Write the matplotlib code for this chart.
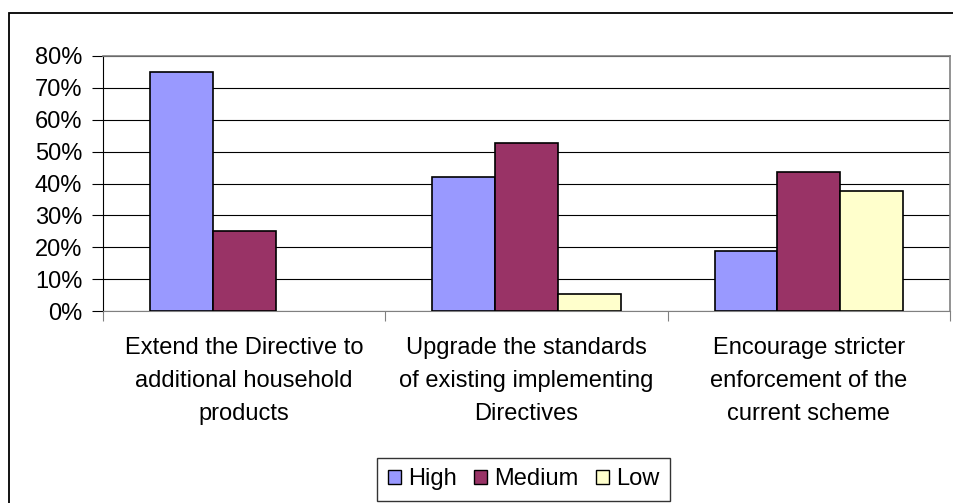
import matplotlib
matplotlib.use("Agg")
import matplotlib.pyplot as plt
from matplotlib.patches import Rectangle, Patch
from matplotlib.ticker import FuncFormatter, MultipleLocator
import numpy as np

plt.rcParams['font.family'] = ['Liberation Sans', 'DejaVu Sans']

categories = [
    "Extend the Directive to\nadditional household\nproducts",
    "Upgrade the standards\nof existing implementing\nDirectives",
    "Encourage stricter\nenforcement of the\ncurrent scheme",
]
series_names = ["High", "Medium", "Low"]
high = [0.75, 0.421, 0.1875]
medium = [0.25, 0.526, 0.4375]
low = [0.0, 0.053, 0.375]
colors = ["#9999FF", "#993366", "#FFFFCC"]

W, H = 954, 503
FS = 17
fig = plt.figure(figsize=(W / 100, H / 100), dpi=100)

# outer chart frame (top and left edges visible)
fig.add_artist(Rectangle((9 / W, -0.01), 1.05, 1 - 13 / H + 0.01,
                         transform=fig.transFigure, fill=False,
                         edgecolor="black", linewidth=1.3))

left, right, top, bottom = 103, 950, 56, 311
ax = fig.add_axes([left / W, 1 - bottom / H, (right - left) / W, (bottom - top) / H])

n = len(categories)
bw = 1 / 4.5
x = np.arange(n) + 0.5
for i, (vals, c) in enumerate(zip([high, medium, low], colors)):
    edges = ["black" if v > 0 else "none" for v in vals]
    ax.bar(x + (i - 1) * bw, vals, width=bw, color=c, edgecolor=edges,
           linewidth=1.2, zorder=3, label=series_names[i])

ax.set_xlim(0, n)
ax.set_ylim(0, 0.8)
ax.yaxis.set_major_locator(MultipleLocator(0.1))
ax.yaxis.set_major_formatter(FuncFormatter(lambda v, p: f"{v * 100:.0f}%"))
ax.grid(axis="y", color="black", linewidth=0.8, zorder=0)

ax.set_xticks(np.arange(n + 1))
ax.set_xticklabels([])
ax.set_xticks(x, minor=True)
ax.set_xticklabels(categories, minor=True, fontsize=FS, linespacing=1.64)
ax.tick_params(axis="x", which="minor", length=0, pad=19)
ax.tick_params(axis="x", which="major", direction="out", length=7, color="#808080")
ax.tick_params(axis="y", direction="out", length=8, labelsize=FS, pad=7)

for s in ["top", "right"]:
    ax.spines[s].set_color("#808080")
    ax.spines[s].set_linewidth(1.2)
ax.spines["bottom"].set_color("#808080")
ax.spines["left"].set_color("black")

handles = [Patch(facecolor=c, edgecolor="black", linewidth=1.0) for c in colors]
leg = fig.legend(handles, series_names, loc="lower left",
                 bbox_to_anchor=(377 / W, 1 - 501 / H), ncol=3, fontsize=FS,
                 frameon=True, fancybox=False, handlelength=0.55, handleheight=0.55,
                 handletextpad=0.3, columnspacing=0.75, borderpad=0.45,
                 borderaxespad=0)
leg.get_frame().set_edgecolor("black")
leg.get_frame().set_linewidth(1.0)

fig.savefig("out.png", dpi=100)
